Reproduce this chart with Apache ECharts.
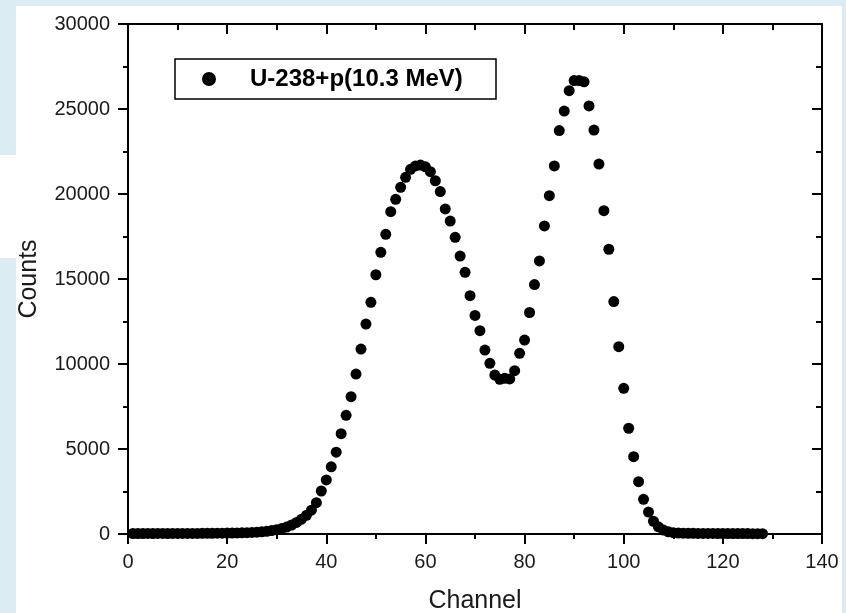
<!DOCTYPE html>
<html>
<head>
<meta charset="utf-8">
<title>U-238+p(10.3 MeV)</title>
<script src="https://cdn.jsdelivr.net/npm/echarts@6.0.0/dist/echarts.min.js"></script>
<style>
    html, body { margin: 0; padding: 0; background: #fff; }
    #spectrum { width: 846px; height: 613px; }
</style>
</head>
<body>
<div id="spectrum"></div>
<script>
var seriesName = "U-238+p(10.3 MeV)";

var channels = [
    1, 2, 3, 4, 5, 6, 7, 8, 9, 10,
    11, 12, 13, 14, 15, 16, 17, 18, 19, 20,
    21, 22, 23, 24, 25, 26, 27, 28, 29, 30,
    31, 32, 33, 34, 35, 36, 37, 38, 39, 40,
    41, 42, 43, 44, 45, 46, 47, 48, 49, 50,
    51, 52, 53, 54, 55, 56, 57, 58, 59, 60,
    61, 62, 63, 64, 65, 66, 67, 68, 69, 70,
    71, 72, 73, 74, 75, 76, 77, 78, 79, 80,
    81, 82, 83, 84, 85, 86, 87, 88, 89, 90,
    91, 92, 93, 94, 95, 96, 97, 98, 99, 100,
    101, 102, 103, 104, 105, 106, 107, 108, 109, 110,
    111, 112, 113, 114, 115, 116, 117, 118, 119, 120,
    121, 122, 123, 124, 125, 126, 127, 128
];

var counts = [
    30, 28, 30, 32, 30, 31, 33, 30, 32, 34,
    33, 35, 36, 35, 38, 40, 42, 45, 48, 52,
    56, 62, 70, 80, 92, 108, 130, 160, 200, 250,
    320, 410, 530, 680, 870, 1100, 1400, 1840, 2530, 3180,
    3950, 4810, 5900, 6980, 8080, 9410, 10880, 12350, 13630, 15250,
    16570, 17630, 18960, 19690, 20390, 20980, 21450, 21650, 21700, 21600,
    21310, 20780, 20140, 19120, 18410, 17450, 16350, 15390, 14020, 12860,
    11960, 10820, 10040, 9350, 9100, 9160, 9120, 9610, 10630, 11410,
    13030, 14670, 16060, 18120, 19900, 21650, 23730, 24880, 26080, 26670,
    26670, 26600, 25180, 23760, 21760, 19020, 16750, 13670, 11020, 8570,
    6220, 4550, 3080, 2040, 1290, 750, 420, 230, 130, 80,
    55, 45, 40, 38, 36, 35, 33, 32, 30, 30,
    28, 27, 26, 25, 24, 22, 20, 18
];

var xTicks = [0, 20, 40, 60, 80, 100, 120, 140];
var yTicks = [0, 5000, 10000, 15000, 20000, 25000, 30000];

var page = {
    font: "'Liberation Sans', Arial, sans-serif",
    init: function () {
        var points = [];
        for (var i = 0; i < channels.length; i++) {
            points.push([channels[i], counts[i]]);
        }
        page.initChart(points);
    },
    // 一条坐标轴（下/左带刻度标签，上/右只画向内的刻度）
    axis: function (ticks, position, mirror) {
        var black = { color: "#000", width: 2 };
        return {
            type: "value",
            position: position,
            min: ticks[0],
            max: ticks[ticks.length - 1],
            interval: ticks[1] - ticks[0],
            axisLine: { show: true, onZero: false, lineStyle: black },
            axisTick: { show: true, inside: mirror, length: 10, lineStyle: black },
            minorTick: { show: true, splitNumber: 2, length: mirror ? 6 : 5, lineStyle: black },
            splitLine: { show: false },
            axisLabel: {
                show: !mirror,
                margin: 18,
                fontSize: 20,
                color: "#1a1a1a",
                fontFamily: page.font,
                formatter: function (val) {
                    return String(val);
                }
            }
        };
    },
    initChart: function (points) {
        var chart = echarts.init(document.getElementById("spectrum"));

        var xBottom = page.axis(xTicks, "bottom", false);
        xBottom.name = "Channel";
        xBottom.nameLocation = "middle";
        xBottom.nameGap = 55;
        xBottom.nameTextStyle = { fontSize: 25, color: "#1a1a1a", fontFamily: page.font };

        var yLeft = page.axis(yTicks, "left", false);
        yLeft.name = "Counts";
        yLeft.nameLocation = "middle";
        yLeft.nameGap = 86;
        yLeft.nameTextStyle = { fontSize: 25, color: "#1a1a1a", fontFamily: page.font };

        var blue = "#dbecf3";
        var options = {
            animation: false,
            backgroundColor: "#fff",
            graphic: [
                { type: "rect", z: -10, shape: { x: 0, y: 0, width: 846, height: 6 }, style: { fill: blue } },
                { type: "rect", z: -10, shape: { x: 0, y: 0, width: 16, height: 155 }, style: { fill: blue } },
                { type: "rect", z: -10, shape: { x: 0, y: 258, width: 16, height: 355 }, style: { fill: blue } },
                { type: "rect", z: -10, shape: { x: 842, y: 0, width: 4, height: 613 }, style: { fill: blue } },
                // 图例外框
                { type: "rect", z: 5, shape: { x: 175, y: 59, width: 321, height: 40 }, style: { fill: null, stroke: "#000", lineWidth: 1.5 } }
            ],
            grid: {
                left: 128,
                right: 24,
                top: 24,
                bottom: 79,
                containLabel: false,
                outerBoundsMode: "none"
            },
            legend: {
                data: [seriesName],
                left: 202,
                top: 67,
                orient: "horizontal",
                padding: 0,
                icon: "circle",
                itemWidth: 72,
                itemHeight: 14,
                textStyle: {
                    fontSize: 24,
                    fontWeight: "bold",
                    color: "#000",
                    fontFamily: page.font
                }
            },
            xAxis: [xBottom, page.axis(xTicks, "top", true)],
            yAxis: [yLeft, page.axis(yTicks, "right", true)],
            series: [
                {
                    name: seriesName,
                    type: "scatter",
                    xAxisIndex: 0,
                    yAxisIndex: 0,
                    symbol: "circle",
                    symbolSize: 11,
                    itemStyle: { color: "#000", opacity: 1 },
                    data: points
                }
            ]
        };
        chart.setOption(options, true);
    }
};

page.init();
</script>
</body>
</html>
